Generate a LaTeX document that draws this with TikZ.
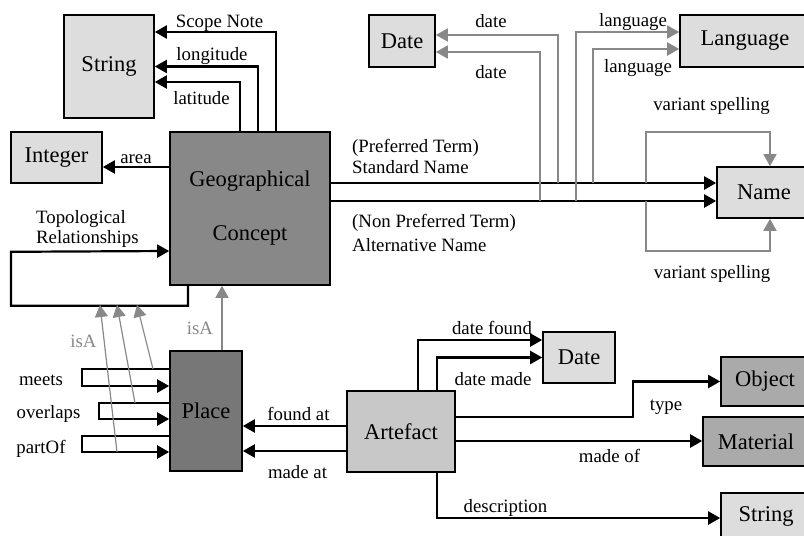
\documentclass[tikz,border=0pt]{standalone}
\usepackage{fontspec}
\setmainfont{Liberation Serif}
\usepackage{tikz}
\usetikzlibrary{arrows.meta,positioning,calc}
\definecolor{boxLight}{RGB}{221, 221, 221}
\definecolor{boxMid}{RGB}{200, 200, 200}
\definecolor{boxDark}{RGB}{170, 170, 170}
\definecolor{conceptGray}{RGB}{136, 136, 136}
\definecolor{placeGray}{RGB}{119, 119, 119}
\definecolor{lineGray}{RGB}{136, 136, 136}
\newcommand{\boxfont}{\fontsize{22.5}{27}\selectfont}
\newcommand{\lblfont}{\fontsize{18.8}{22}\selectfont}

\begin{document}
\begin{tikzpicture}[
        x=1pt, y=-1pt,
        entity/.style={rectangle, draw=black, line width=1.6pt, inner sep=0pt, align=center, font=\boxfont},
        light/.style={entity, fill=boxLight},
        darker/.style={entity, fill=boxDark},
        lbl/.style={font=\lblfont, anchor=base, inner sep=0pt},
        lblleft/.style={font=\lblfont, anchor=base west, inner sep=0pt, align=left},
        rel/.style={-{Triangle[length=12pt,width=13pt]}, line width=2.2pt, black},
        isa/.style={-{Triangle[length=12pt,width=13pt]}, line width=1.6pt, lineGray},
        attr/.style={-{Triangle[length=12pt,width=13pt]}, line width=1.6pt, lineGray}
    ]
        \useasboundingbox (0,0) rectangle (804,536);
        \clip (0,0) rectangle (804,536);

        % Entities
        \node[entity, fill=conceptGray, minimum width=160pt, minimum height=153pt] (geo) at (250,208.5) {Geographical\\[27pt]Concept};
        \node[light, minimum width=90pt, minimum height=103pt] (strA) at (109,66.5) {String};
        \node[light, minimum width=91pt, minimum height=51pt] (intg) at (56.5,157.5) {Integer};
        \node[light, minimum width=66pt, minimum height=52pt] (dateA) at (402,41) {Date};
        \node[light, minimum width=130pt, minimum height=52pt] (lang) at (745,41) {Language};
        \node[light, minimum width=94pt, minimum height=51pt] (name) at (764,192.5) {Name};

        \node[entity, fill=placeGray, minimum width=72pt, minimum height=120pt] (place) at (206,411) {Place};
        \node[entity, fill=boxMid, minimum width=108pt, minimum height=81pt] (art) at (401,431.5) {Artefact};
        \node[light, minimum width=72pt, minimum height=51pt] (dateB) at (579,357.5) {Date};
        \node[darker, minimum width=88pt, minimum height=49pt] (obj) at (765,381.5) {Object};
        \node[darker, minimum width=106pt, minimum height=49pt] (mat) at (756,441.5) {Material};
        \node[light, minimum width=90pt, minimum height=46pt] (strB) at (766,516) {String};

        % Attributes of Geographical Concept
        \draw[rel] ([xshift=26pt]geo.north) |- ([yshift=34.5pt]strA.east);
        \draw[rel] ([xshift=8pt]geo.north) |- (strA.east);
        \draw[rel] ([xshift=-10pt]geo.north) |- ([yshift=-15.5pt]strA.east);
        \draw[rel] ([yshift=-9.5pt]intg.east -| geo.west) -- ([yshift=-9.5pt]intg.east);
        \node[lbl] (lscope) at (219.5,27) {Scope Note};
        \node[lbl] (llong) at (212,60) {longitude};
        \node[lbl] (llat) at (201.5,104) {latitude};
        \node[lbl] (larea) at (136,163) {area};

        % Standard / Alternative name
        \draw[rel] ([yshift=25.5pt]geo.east) -- ([yshift=25.5pt]geo.east -| name.west);
        \draw[rel] ([yshift=7.5pt]geo.east) -- ([yshift=7.5pt]geo.east -| name.west);
        \node[lblleft] (lpref) at (352,152) {(Preferred Term)};
        \node[lblleft] (lstd) at (352,173) {Standard Name};
        \node[lblleft] (lnpref) at (352,227) {(Non Preferred Term)};
        \node[lblleft] (lalt) at (352,251) {Alternative Name};

        % Feet on the name links
        \coordinate (dStd) at (558,183);
        \coordinate (dAlt) at (540,201);
        \coordinate (lAlt) at (576,201);
        \coordinate (lStd) at (593,183);
        \coordinate (vStd) at (646,183);
        \coordinate (vAlt) at (646,201);

        \draw[attr] (dStd) |- ([yshift=6pt]dateA.east);
        \draw[attr] (dAlt) |- ([yshift=-11pt]dateA.east);
        \draw[attr] (lAlt) |- ([yshift=9pt]lang.west);
        \draw[attr, line width=2.2pt] (lStd) |- ([yshift=-8pt]lang.west);
        \draw[attr] (vStd) |- ([xshift=6pt,yshift=34pt]name.north) -- ([xshift=6pt]name.north);
        \draw[attr] (vAlt) |- ([xshift=6pt,yshift=-32pt]name.south) -- ([xshift=6pt]name.south);
        \node[lbl] (ldate1) at (491,27) {date};
        \node[lbl] (ldate2) at (491,78) {date};
        \node[lbl] (llang1) at (633,26) {language};
        \node[lbl] (llang2) at (638,72) {language};
        \node[lbl] (lvar1) at (711.5,110) {variant spelling};
        \node[lbl] (lvar2) at (712,278) {variant spelling};

        % Topological relationships
        \draw[rel] ([xshift=-62pt]geo.south) -- ++(0,20) -| ++(-177,-54) -- ([yshift=-42.5pt]geo.west);
        \node[lblleft] (ltopo) at (36,223) {Topological};
        \node[lblleft] (lrels) at (36,243) {Relationships};

        % Place
        \draw[isa] ([xshift=16pt]place.north) -- ([xshift=16pt]place.north |- geo.south);
        \node[lbl, text=lineGray] (lisa2) at (200,334) {isA};

        \draw[rel] ([yshift=42pt]place.west) -| ++(-87,17) -- ([yshift=25pt]place.west);
        \draw[rel] ([yshift=8pt]place.west) -| ++(-70,16) -- ([yshift=-8pt]place.west);
        \draw[rel] ([yshift=-25pt]place.west) -| ++(-87,16) -- ([yshift=-41pt]place.west);
        \node[lbl] (lmeets) at (41,385) {meets};
        \node[lbl] (lover) at (48.5,418) {overlaps};
        \node[lbl] (lpart) at (41,453) {partOf};

        % isA of the topological relations
        \coordinate (isPart) at (117,452);
        \coordinate (isOver) at (135,403);
        \coordinate (isMeet) at (153,369);
        \draw[isa, line width=1.2pt] (isPart) -- (100,305);
        \draw[isa, line width=1.2pt] (isOver) -- (117,305);
        \draw[isa, line width=1.2pt] (isMeet) -- (137,305);
        \node[lbl, text=lineGray] (lisa1) at (83.5,347) {isA};

        % Artefact
        \draw[rel] ([yshift=5.5pt]art.west) -- ([yshift=5.5pt]art.west -| place.east);
        \draw[rel] ([yshift=-19.5pt]art.west) -- ([yshift=-19.5pt]art.west -| place.east);
        \node[lbl] (lfound) at (298.5,420) {found at};
        \node[lbl] (lmade) at (297.5,478) {made at};

        \draw[rel] ([xshift=17pt]art.north) |- ([yshift=17.5pt]dateB.west);
        \draw[rel] ([xshift=36pt]art.north) |- (dateB.west);
        \node[lbl] (ldfound) at (492,334) {date found};
        \node[lbl] (ldmade) at (493,385) {date made};

        \draw[rel] ([yshift=14.5pt]art.east) -- ++(177,0) |- (obj.west);
        \draw[rel] ([yshift=-9.5pt]art.east) -- ([yshift=-9.5pt]art.east -| mat.west);
        \draw[rel] ([xshift=36pt]art.south) |- ([yshift=-2pt]strB.west);
        \node[lbl] (ltype) at (666,410) {type};
        \node[lbl] (lmadeof) at (609.5,462) {made of};
        \node[lbl] (ldesc) at (505.5,512) {description};

    \end{tikzpicture}
\end{document}
